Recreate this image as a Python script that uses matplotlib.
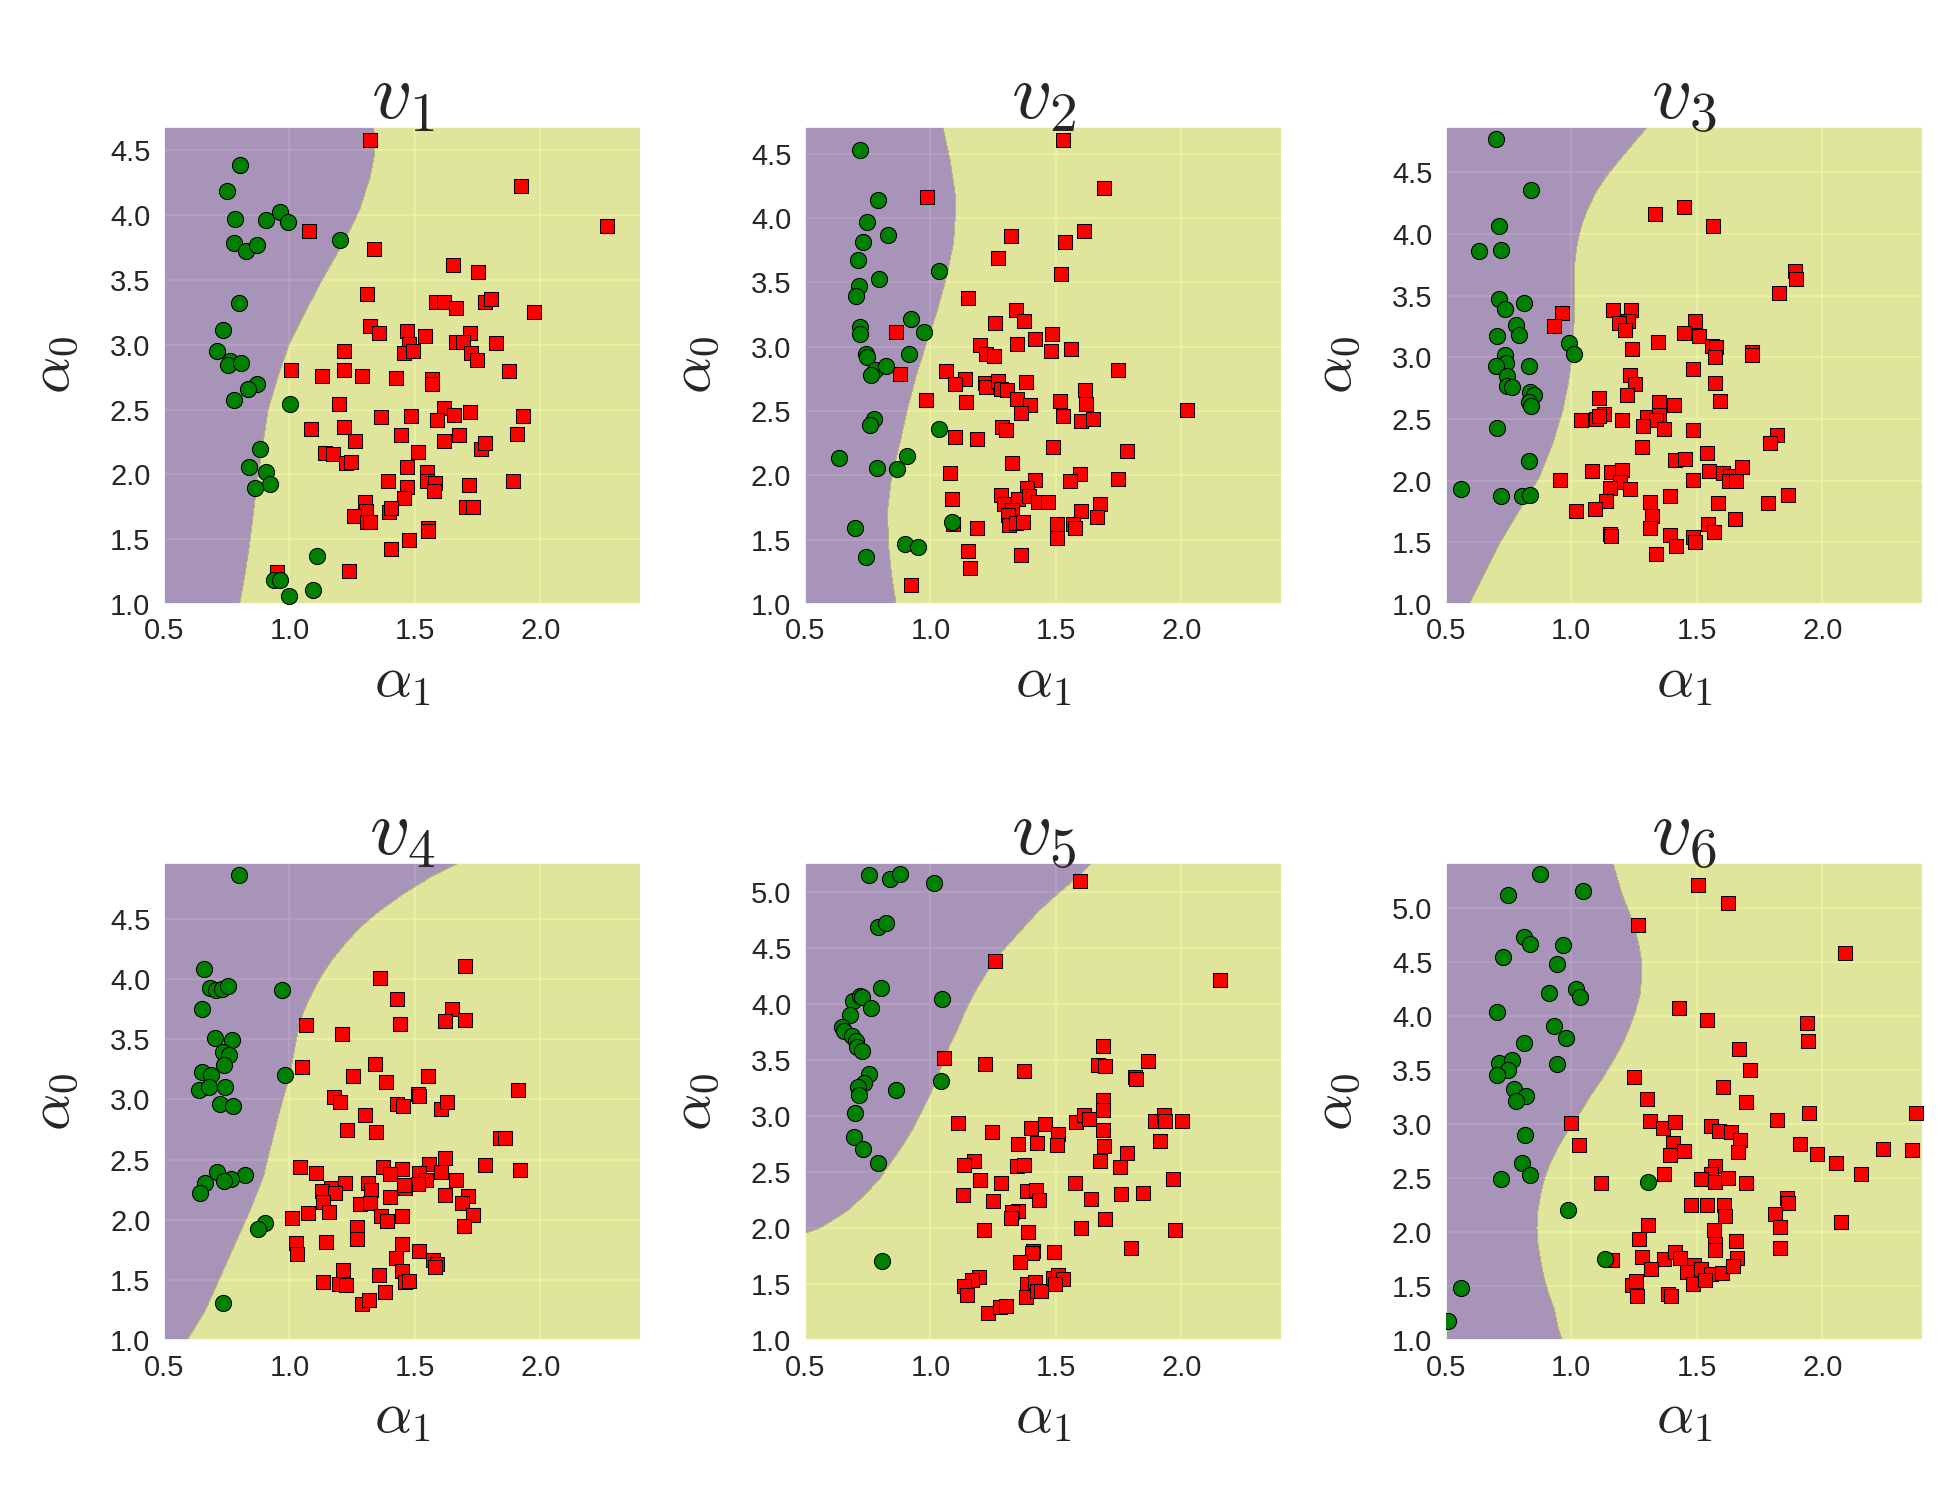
import numpy as np
import matplotlib
matplotlib.use("Agg")
import matplotlib.pyplot as plt
import seaborn as sns

sns.set_style("darkgrid")
plt.rcParams["font.family"] = ["Liberation Sans", "DejaVu Sans"]
plt.rcParams["mathtext.fontset"] = "cm"

PURPLE = "#471365"; YELLOW = "#d0e11c"

titles = [r"$v_1$", r"$v_2$", r"$v_3$", r"$v_4$", r"$v_5$", r"$v_6$"]

# ---- panel v1 ----
g1x = [0.804, 0.752, 0.782, 0.906, 0.963, 0.993, 0.777, 0.825, 0.870, 1.203, 0.797, 0.735, 0.710, 0.763, 0.755,
       0.805, 0.871, 0.836, 0.779, 1.001, 0.882, 0.840, 0.907, 0.922, 0.863, 1.111, 0.939, 0.962, 1.092, 0.997]
g1y = [4.384, 4.189, 3.968, 3.963, 4.025, 3.945, 3.784, 3.727, 3.773, 3.809, 3.321, 3.111, 2.954, 2.874, 2.841,
       2.859, 2.697, 2.656, 2.577, 2.541, 2.194, 2.060, 2.017, 1.929, 1.891, 1.370, 1.187, 1.185, 1.110, 1.061]
r1x = [1.320, 1.923, 2.265, 1.077, 1.336, 1.650, 1.752, 1.309, 1.585, 1.614, 1.662, 1.779, 1.804, 1.976, 1.320,
       1.355, 1.468, 1.538, 1.721, 1.662, 1.691, 1.478, 1.455, 1.492, 1.824, 1.724, 1.747, 1.216, 1.005, 1.129,
       1.219, 1.290, 1.426, 1.569, 1.569, 1.873, 1.199, 1.614, 1.366, 1.483, 1.587, 1.655, 1.721, 1.931, 1.085,
       1.216, 1.261, 1.446, 1.614, 1.674, 1.907, 1.765, 1.780, 1.141, 1.174, 1.224, 1.245, 1.512, 1.469, 1.549,
       1.549, 1.578, 1.576, 1.394, 1.467, 1.716, 1.889, 1.455, 1.301, 1.306, 1.395, 1.403, 1.256, 1.310, 1.322,
       1.704, 1.730, 1.552, 1.552, 1.477, 1.406, 1.239, 0.952]
r1y = [4.582, 4.223, 3.917, 3.876, 3.735, 3.619, 3.560, 3.388, 3.329, 3.332, 3.285, 3.329, 3.350, 3.249, 3.144,
       3.088, 3.108, 3.067, 3.093, 3.021, 3.021, 3.003, 2.939, 2.951, 3.011, 2.933, 2.882, 2.954, 2.803, 2.759,
       2.803, 2.759, 2.743, 2.738, 2.695, 2.797, 2.541, 2.515, 2.440, 2.451, 2.420, 2.458, 2.484, 2.451, 2.353,
       2.366, 2.258, 2.304, 2.258, 2.307, 2.310, 2.194, 2.245, 2.168, 2.160, 2.086, 2.099, 2.173, 2.058, 2.019,
       1.945, 1.937, 1.873, 1.945, 1.904, 1.919, 1.950, 1.814, 1.788, 1.714, 1.706, 1.737, 1.675, 1.629, 1.634,
       1.750, 1.750, 1.583, 1.565, 1.495, 1.424, 1.257, 1.244]
b1y = [1.007, 1.218, 1.475, 1.732, 1.988, 2.244, 2.502, 2.759, 3.016, 3.272, 3.529, 3.786, 4.043, 4.299, 4.479, 4.685]
b1x = [0.802, 0.822, 0.842, 0.858, 0.875, 0.895, 0.915, 0.955, 1.001, 1.068, 1.138, 1.214, 1.280, 1.322, 1.340, 1.336]

# ---- panel v2 ----
g2x = [0.720, 0.790, 0.747, 0.830, 0.731, 0.711, 1.036, 0.796, 0.716, 0.703, 0.924, 0.718, 0.718, 0.973, 0.916,
       0.743, 0.749, 0.780, 0.765, 0.822, 0.776, 0.760, 1.033, 0.635, 0.906, 0.788, 0.866, 0.698, 1.085, 0.897,
       0.950, 0.743]
g2y = [4.534, 4.142, 3.972, 3.868, 3.816, 3.674, 3.593, 3.526, 3.471, 3.391, 3.215, 3.155, 3.096, 3.114, 2.946,
       2.940, 2.920, 2.816, 2.780, 2.850, 2.435, 2.391, 2.358, 2.137, 2.150, 2.054, 2.047, 1.588, 1.640, 1.469,
       1.446, 1.368]
r2x = [1.527, 1.690, 0.985, 1.610, 1.320, 1.537, 1.268, 1.519, 1.149, 1.340, 1.373, 1.256, 0.862, 1.418, 1.483,
       1.347, 1.198, 1.220, 1.252, 1.481, 1.562, 1.749, 0.878, 1.064, 1.139, 1.097, 1.218, 1.221, 1.268, 1.280,
       1.304, 1.379, 1.344, 1.395, 1.361, 1.516, 1.615, 1.620, 1.529, 1.602, 1.649, 2.024, 0.983, 1.141, 1.284,
       1.300, 1.097, 1.184, 1.487, 1.784, 1.325, 1.077, 1.596, 1.558, 1.749, 1.416, 1.383, 1.280, 1.350, 1.394,
       1.430, 1.467, 1.294, 1.085, 1.324, 1.308, 1.312, 1.343, 1.369, 1.599, 1.674, 1.662, 1.505, 1.570, 1.576,
       1.503, 1.092, 1.184, 1.149, 1.359, 1.158, 0.923]
r2y = [4.611, 4.236, 4.166, 3.899, 3.860, 3.811, 3.687, 3.565, 3.378, 3.285, 3.199, 3.184, 3.114, 3.060, 3.099,
       3.021, 3.010, 2.946, 2.927, 2.966, 2.979, 2.816, 2.785, 2.811, 2.751, 2.707, 2.720, 2.687, 2.733, 2.674,
       2.663, 2.725, 2.596, 2.547, 2.482, 2.577, 2.663, 2.554, 2.461, 2.425, 2.440, 2.505, 2.585, 2.570, 2.376,
       2.350, 2.298, 2.282, 2.220, 2.189, 2.098, 2.018, 2.010, 1.959, 1.971, 1.961, 1.904, 1.850, 1.813, 1.839,
       1.793, 1.793, 1.780, 1.813, 1.728, 1.689, 1.614, 1.632, 1.637, 1.723, 1.780, 1.679, 1.624, 1.624, 1.593,
       1.515, 1.624, 1.591, 1.412, 1.378, 1.277, 1.145]
b2y = [1.005, 1.218, 1.477, 1.736, 1.995, 2.254, 2.513, 2.772, 3.031, 3.290, 3.549, 3.808, 4.067, 4.197, 4.456, 4.715]
b2x = [0.863, 0.846, 0.832, 0.830, 0.846, 0.879, 0.908, 0.943, 0.985, 1.029, 1.065, 1.092, 1.101, 1.098, 1.078, 1.049]

# ---- panel v3 ----
g3x = [0.700, 0.840, 0.710, 0.633, 0.719, 0.712, 0.735, 0.812, 0.781, 0.790, 0.704, 0.991, 1.011, 0.735, 0.739,
       0.698, 0.830, 0.742, 0.744, 0.765, 0.834, 0.851, 0.832, 0.838, 0.704, 0.830, 0.561, 0.721, 0.805, 0.834]
g3y = [4.770, 4.359, 4.062, 3.859, 3.868, 3.476, 3.392, 3.441, 3.259, 3.181, 3.170, 3.116, 3.027, 3.022, 2.954,
       2.927, 2.927, 2.851, 2.770, 2.759, 2.719, 2.697, 2.635, 2.608, 2.424, 2.157, 1.935, 1.878, 1.873, 1.886]
r3x = [1.334, 1.450, 1.565, 1.891, 1.895, 1.828, 0.962, 0.932, 1.168, 1.239, 1.225, 1.188, 1.212, 1.493, 1.447,
       1.509, 1.561, 1.577, 1.574, 1.346, 1.241, 1.718, 1.719, 1.484, 1.232, 1.253, 1.220, 1.573, 1.594, 1.111,
       1.350, 1.411, 1.038, 1.099, 1.132, 1.110, 1.200, 1.300, 1.351, 1.336, 1.285, 1.370, 1.483, 1.820, 1.792,
       1.280, 1.412, 1.451, 1.541, 0.954, 1.082, 1.159, 1.202, 1.195, 1.153, 1.232, 1.484, 1.548, 1.603, 1.633,
       1.630, 1.658, 1.682, 1.139, 1.313, 1.394, 1.585, 1.784, 1.865, 1.017, 1.093, 1.320, 1.312, 1.545, 1.570,
       1.654, 1.153, 1.159, 1.394, 1.418, 1.484, 1.492, 1.338]
r3y = [4.162, 4.216, 4.068, 3.703, 3.638, 3.522, 3.359, 3.251, 3.381, 3.381, 3.297, 3.278, 3.224, 3.292, 3.197,
       3.170, 3.095, 3.084, 3.000, 3.122, 3.068, 3.041, 3.016, 2.905, 2.854, 2.786, 2.697, 2.789, 2.643, 2.673,
       2.641, 2.616, 2.495, 2.500, 2.541, 2.527, 2.489, 2.516, 2.535, 2.495, 2.441, 2.422, 2.414, 2.368, 2.305,
       2.270, 2.165, 2.178, 2.222, 2.003, 2.076, 2.070, 2.089, 1.986, 1.941, 1.932, 2.003, 2.076, 2.062, 2.041,
       1.995, 1.995, 2.114, 1.832, 1.824, 1.878, 1.819, 1.819, 1.881, 1.751, 1.770, 1.711, 1.616, 1.651, 1.584,
       1.689, 1.570, 1.549, 1.562, 1.468, 1.541, 1.505, 1.408]
b3y = [1.003, 1.224, 1.495, 1.765, 2.035, 2.305, 2.576, 2.846, 3.116, 3.386, 3.657, 3.792, 3.927, 4.062, 4.197,
       4.332, 4.468, 4.603, 4.738, 4.873]
b3x = [0.595, 0.648, 0.715, 0.795, 0.874, 0.927, 0.967, 0.993, 1.009, 1.012, 1.012, 1.015, 1.024, 1.040, 1.064,
       1.096, 1.139, 1.193, 1.248, 1.305]

# ---- panel v4 ----
g4x = [0.797, 0.658, 0.683, 0.706, 0.733, 0.757, 0.972, 0.651, 0.702, 0.772, 0.735, 0.759, 0.739, 0.650, 0.686,
       0.981, 0.641, 0.678, 0.743, 0.724, 0.776, 0.710, 0.822, 0.767, 0.741, 0.664, 0.645, 0.902, 0.873, 0.737]
g4y = [4.863, 4.084, 3.924, 3.910, 3.921, 3.946, 3.907, 3.755, 3.514, 3.497, 3.392, 3.367, 3.287, 3.229, 3.204,
       3.204, 3.079, 3.107, 3.107, 2.960, 2.943, 2.400, 2.375, 2.342, 2.323, 2.309, 2.226, 1.971, 1.927, 1.312]
r4x = [1.700, 1.361, 1.430, 1.649, 1.621, 1.700, 1.439, 1.064, 1.208, 1.048, 1.341, 1.255, 1.385, 1.552, 1.911,
       1.176, 1.203, 1.428, 1.454, 1.513, 1.516, 1.605, 1.629, 1.300, 1.231, 1.344, 1.837, 1.857, 1.040, 1.107,
       1.374, 1.450, 1.399, 1.556, 1.621, 1.516, 1.605, 1.780, 1.919, 1.664, 1.542, 1.512, 1.220, 1.167, 1.130,
       1.183, 1.313, 1.324, 1.462, 1.456, 1.399, 1.619, 1.712, 1.686, 1.133, 1.157, 1.072, 1.280, 1.320, 1.012,
       1.366, 1.390, 1.450, 1.732, 1.696, 1.268, 1.268, 1.024, 1.028, 1.147, 1.447, 1.515, 1.426, 1.570, 1.587,
       1.578, 1.447, 1.212, 1.134, 1.199, 1.227, 1.358, 1.459, 1.477, 1.382, 1.288, 1.316]
r4y = [4.109, 4.007, 3.838, 3.747, 3.652, 3.661, 3.627, 3.619, 3.542, 3.270, 3.295, 3.195, 3.148, 3.195, 3.079,
       3.021, 2.982, 2.965, 2.946, 3.048, 3.029, 2.918, 2.982, 2.871, 2.749, 2.733, 2.683, 2.683, 2.439, 2.386,
       2.439, 2.420, 2.378, 2.467, 2.514, 2.392, 2.400, 2.456, 2.417, 2.331, 2.328, 2.295, 2.309, 2.267, 2.240,
       2.220, 2.309, 2.248, 2.267, 2.292, 2.193, 2.209, 2.198, 2.137, 2.148, 2.065, 2.060, 2.132, 2.137, 2.018,
       2.032, 1.990, 2.032, 2.040, 1.951, 1.943, 1.843, 1.810, 1.716, 1.818, 1.802, 1.741, 1.686, 1.666, 1.636,
       1.611, 1.578, 1.583, 1.483, 1.469, 1.458, 1.544, 1.486, 1.492, 1.403, 1.303, 1.331]
b4y = [1.004, 1.242, 1.519, 1.796, 2.073, 2.350, 2.627, 2.904, 3.181, 3.320, 3.458, 3.597, 3.735, 3.874, 4.012,
       4.151, 4.289, 4.428, 4.566, 4.705, 4.843, 4.968]
b4x = [0.593, 0.663, 0.723, 0.782, 0.842, 0.895, 0.928, 0.961, 0.999, 1.012, 1.024, 1.037, 1.057, 1.088, 1.123,
       1.167, 1.220, 1.280, 1.359, 1.452, 1.559, 1.678]

# ---- panel v5 ----
g5x = [0.756, 0.840, 0.877, 1.016, 0.790, 0.824, 0.805, 1.045, 0.691, 0.718, 0.729, 0.764, 0.680, 0.647, 0.654,
       0.687, 0.703, 0.707, 0.727, 0.757, 0.736, 0.711, 0.714, 0.863, 1.042, 0.700, 0.694, 0.731, 0.793, 0.806]
g5y = [5.158, 5.122, 5.161, 5.083, 4.688, 4.729, 4.146, 4.048, 4.033, 4.071, 4.065, 3.967, 3.908, 3.795, 3.759,
       3.714, 3.670, 3.616, 3.586, 3.378, 3.301, 3.259, 3.188, 3.238, 3.313, 3.030, 2.818, 2.705, 2.583, 1.705]
r5x = [1.598, 1.256, 2.153, 1.688, 1.054, 1.218, 1.373, 1.666, 1.695, 1.865, 1.816, 1.821, 1.689, 1.689, 1.110,
       1.247, 1.401, 1.456, 1.507, 1.580, 1.610, 1.633, 1.686, 1.894, 1.930, 1.936, 2.003, 1.916, 1.351, 1.424,
       1.505, 1.691, 1.784, 1.675, 1.757, 1.174, 1.134, 1.344, 1.373, 1.196, 1.282, 1.578, 1.968, 1.129, 1.248,
       1.383, 1.420, 1.431, 1.638, 1.759, 1.847, 1.350, 1.324, 1.320, 1.695, 1.212, 1.387, 1.602, 1.976, 1.801,
       1.408, 1.405, 1.491, 1.355, 1.192, 1.167, 1.134, 1.145, 1.386, 1.416, 1.379, 1.423, 1.439, 1.489, 1.507,
       1.529, 1.496, 1.228, 1.277, 1.300]
r5y = [5.098, 4.384, 4.214, 3.625, 3.521, 3.470, 3.408, 3.455, 3.452, 3.491, 3.348, 3.336, 3.149, 3.060, 2.938,
       2.857, 2.896, 2.932, 2.845, 2.949, 3.009, 2.979, 2.875, 2.955, 3.015, 2.955, 2.955, 2.783, 2.756, 2.759,
       2.747, 2.732, 2.673, 2.598, 2.548, 2.598, 2.563, 2.560, 2.563, 2.429, 2.402, 2.402, 2.443, 2.295, 2.241,
       2.330, 2.339, 2.250, 2.259, 2.307, 2.313, 2.152, 2.143, 2.092, 2.086, 1.982, 1.964, 2.000, 1.988, 1.821,
       1.801, 1.780, 1.789, 1.699, 1.565, 1.542, 1.482, 1.402, 1.503, 1.518, 1.387, 1.438, 1.443, 1.557, 1.580,
       1.548, 1.503, 1.244, 1.295, 1.310]
b5y = [1.000, 1.958, 2.003, 2.152, 2.301, 2.449, 2.598, 2.747, 2.896, 3.045, 3.193, 3.342, 3.491, 3.640, 3.789,
       3.938, 4.086, 4.235, 4.384, 4.533, 4.682, 4.830, 4.979, 5.128, 5.262]
b5x = [-0.500, 0.505, 0.561, 0.667, 0.740, 0.800, 0.846, 0.892, 0.932, 0.966, 0.999, 1.025, 1.052, 1.078, 1.111,
       1.138, 1.171, 1.211, 1.251, 1.310, 1.370, 1.430, 1.503, 1.582, 1.642]

# ---- panel v6 ----
g6x = [0.877, 0.748, 1.046, 0.812, 0.834, 0.967, 0.728, 0.942, 0.911, 1.017, 1.033, 0.702, 0.931, 0.977, 0.810,
       0.712, 0.765, 0.749, 0.702, 0.942, 0.772, 0.820, 0.779, 0.816, 0.804, 0.836, 0.719, 1.305, 0.987, 1.133,
       0.560, 0.509]
g6y = [5.318, 5.126, 5.157, 4.735, 4.673, 4.658, 4.550, 4.479, 4.217, 4.254, 4.177, 4.041, 3.912, 3.800, 3.751,
       3.569, 3.591, 3.498, 3.455, 3.560, 3.323, 3.261, 3.215, 2.897, 2.644, 2.530, 2.496, 2.468, 2.206, 1.750,
       1.488, 1.179]
r6x = [1.503, 1.626, 1.267, 2.089, 1.431, 1.540, 1.938, 1.942, 1.668, 1.710, 1.248, 1.605, 1.302, 1.696, 1.820,
       1.946, 2.373, 1.000, 1.314, 1.365, 1.414, 1.557, 1.587, 1.637, 1.672, 1.666, 1.029, 1.406, 1.448, 1.394,
       1.912, 1.979, 2.054, 2.155, 2.241, 2.359, 1.574, 1.557, 1.515, 1.574, 1.625, 1.694, 1.371, 1.117, 1.475,
       1.540, 1.609, 1.613, 1.858, 1.863, 1.812, 1.832, 2.076, 1.306, 1.268, 1.568, 1.574, 1.574, 1.658, 1.830,
       1.162, 1.283, 1.371, 1.414, 1.432, 1.660, 1.318, 1.488, 1.461, 1.515, 1.555, 1.599, 1.643, 1.484, 1.533,
       1.243, 1.256, 1.263, 1.386, 1.399]
r6y = [5.219, 5.052, 4.843, 4.581, 4.075, 3.964, 3.933, 3.767, 3.693, 3.504, 3.437, 3.344, 3.233, 3.205, 3.039,
       3.104, 3.104, 3.008, 3.030, 2.968, 3.023, 2.983, 2.937, 2.928, 2.851, 2.743, 2.808, 2.823, 2.752, 2.715,
       2.820, 2.727, 2.644, 2.539, 2.771, 2.758, 2.613, 2.536, 2.496, 2.468, 2.505, 2.456, 2.536, 2.453, 2.249,
       2.249, 2.253, 2.151, 2.314, 2.268, 2.166, 2.049, 2.098, 2.067, 1.938, 2.018, 1.895, 1.833, 1.920, 1.855,
       1.747, 1.771, 1.756, 1.821, 1.765, 1.765, 1.664, 1.695, 1.636, 1.664, 1.612, 1.618, 1.683, 1.525, 1.556,
       1.510, 1.550, 1.411, 1.426, 1.411]
b6y = [1.007, 1.118, 1.272, 1.426, 1.580, 1.735, 1.889, 2.043, 2.197, 2.351, 2.505, 2.660, 2.814, 2.968, 3.122,
       3.276, 3.430, 3.585, 3.739, 3.893, 4.047, 4.201, 4.356, 4.510, 4.664, 4.818, 4.972, 5.126, 5.281, 5.419]
b6x = [0.963, 0.947, 0.934, 0.911, 0.891, 0.878, 0.867, 0.863, 0.867, 0.878, 0.894, 0.920, 0.954, 0.994, 1.040,
       1.080, 1.126, 1.166, 1.203, 1.232, 1.256, 1.274, 1.280, 1.280, 1.269, 1.252, 1.229, 1.203, 1.183, 1.166]

panels = [(g1x, g1y, r1x, r1y, b1y, b1x), (g2x, g2y, r2x, r2y, b2y, b2x), (g3x, g3y, r3x, r3y, b3y, b3x),
          (g4x, g4y, r4x, r4y, b4y, b4x), (g5x, g5y, r5x, r5y, b5y, b5x), (g6x, g6y, r6x, r6y, b6y, b6x)]

fig, axes = plt.subplots(2, 3, figsize=(13, 10))
fig.subplots_adjust(left=0.0841, right=0.986, top=0.9155, bottom=0.1065, wspace=0.344, hspace=0.543)

for ax, title, (gx, gy, rx, ry, by, bx) in zip(axes.flat, titles, panels):
    ytop = max(max(gy), max(ry)) + 0.1
    xs = np.arange(0.5, 2.4, 0.004)
    ys = np.arange(1.0, ytop, 0.004)
    xx, yy = np.meshgrid(xs, ys)
    zz = xx - np.interp(yy, by, bx)
    ax.contourf(xx, yy, zz, levels=[-10, 0, 10], colors=[PURPLE, YELLOW], alpha=0.4)
    ax.scatter(rx, ry, c="red", marker="s", s=48, edgecolors="k", linewidths=0.5, zorder=3)
    ax.scatter(gx, gy, c="green", marker="o", s=60, edgecolors="k", linewidths=0.5, zorder=4)
    ax.set_xlim(0.5, 2.4)
    ax.set_ylim(1.0, ytop)
    ax.set_xticks(np.arange(0.5, 2.01, 0.5))
    ax.set_yticks(np.arange(1.0, ytop, 0.5))
    ax.xaxis.set_major_formatter(matplotlib.ticker.FormatStrFormatter("%.1f"))
    ax.yaxis.set_major_formatter(matplotlib.ticker.FormatStrFormatter("%.1f"))
    ax.tick_params(labelsize=14, pad=3)
    ax.set_title(title, fontsize=38, pad=4)
    ax.set_xlabel(r"$\alpha_1$", fontsize=28, labelpad=4)
    ax.set_ylabel(r"$\alpha_0$", fontsize=28, labelpad=14)

fig.savefig("out.png", dpi=150)
